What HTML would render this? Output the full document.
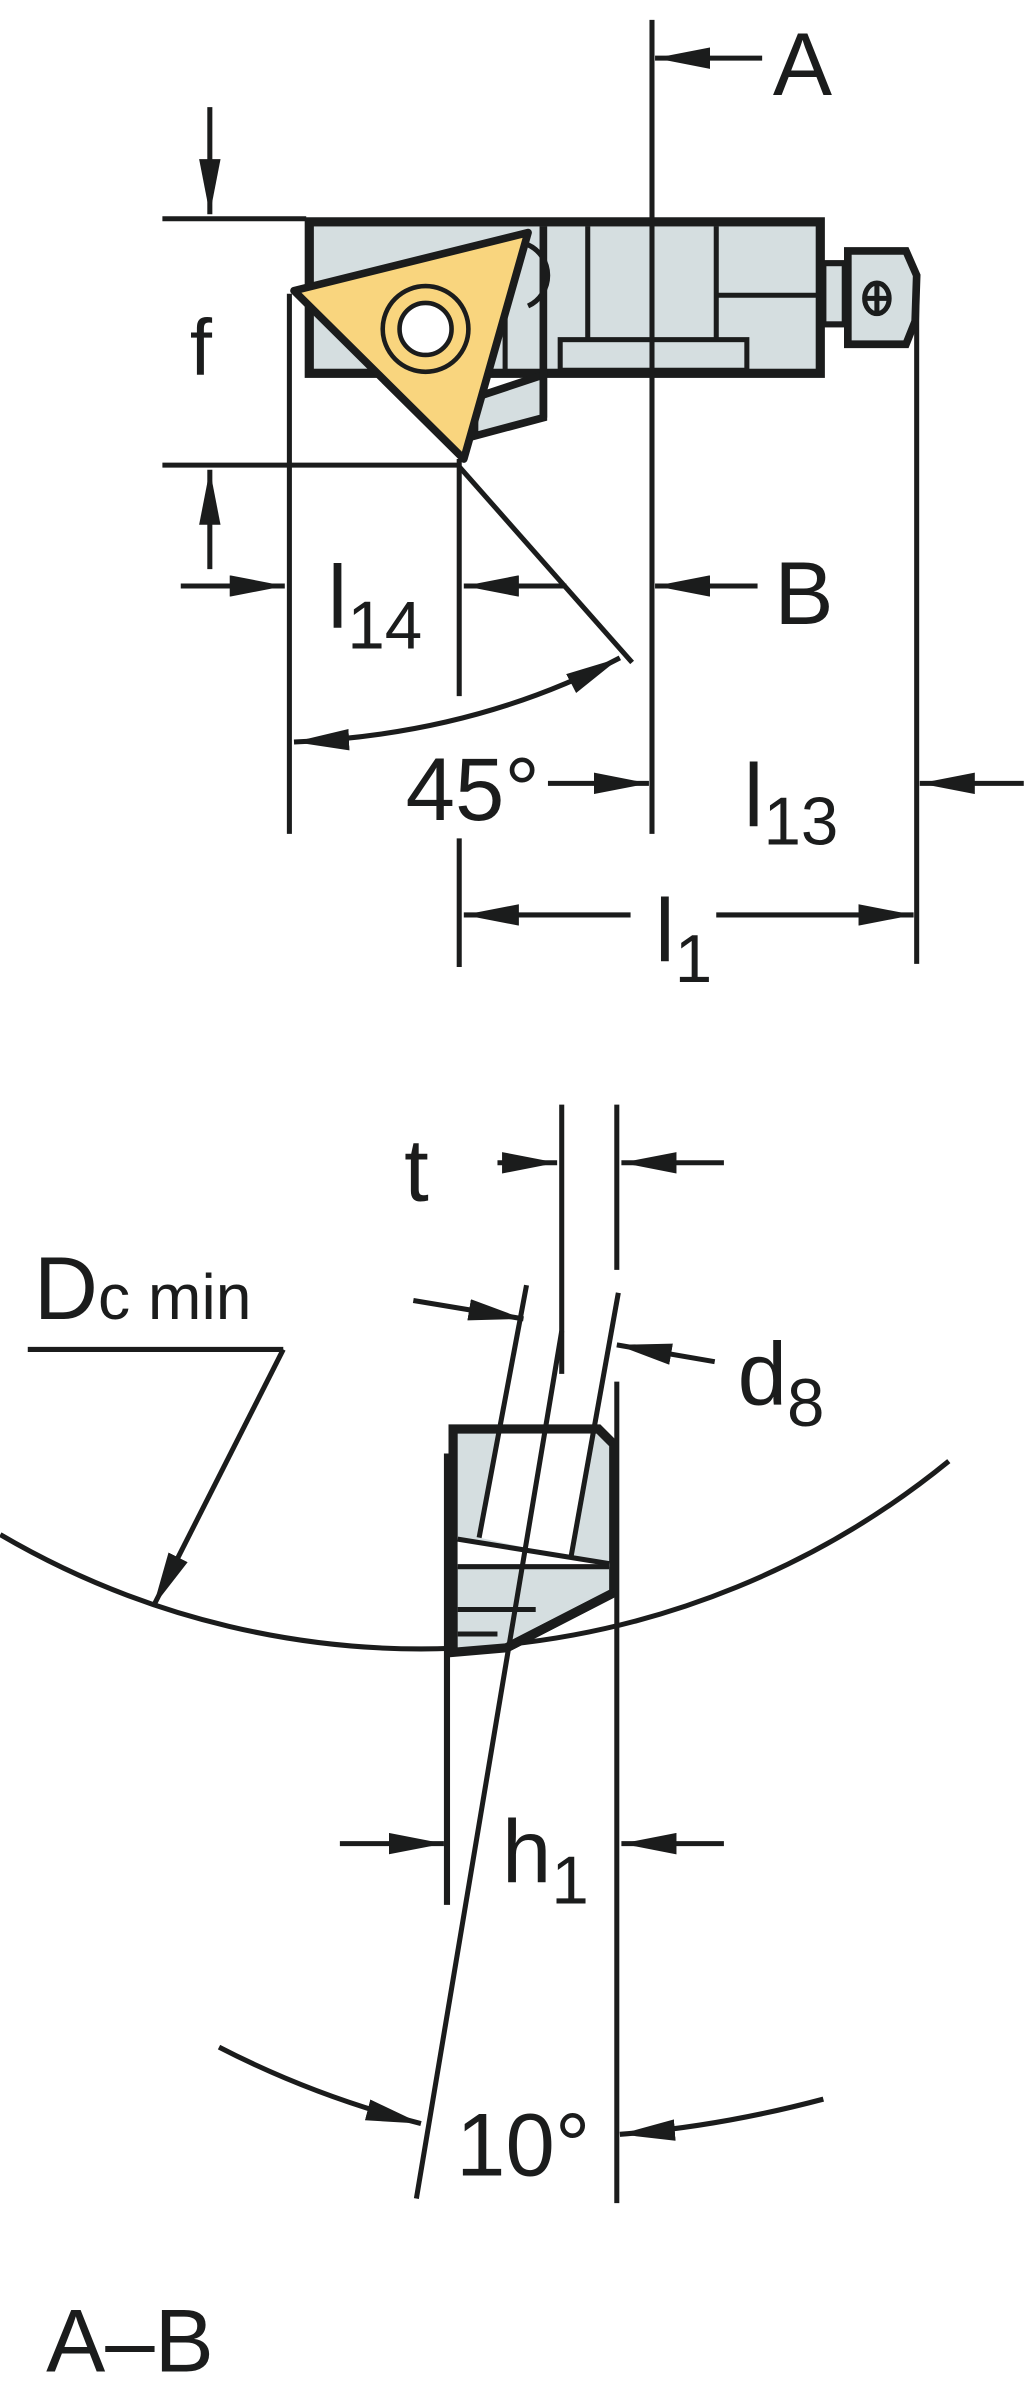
<!DOCTYPE html>
<html><head><meta charset="utf-8"><style>
html,body{margin:0;padding:0;background:#fff;}
svg{display:block;}
text{font-family:"Liberation Sans",sans-serif;fill:#1b1c1c;}
</style></head><body>
<svg width="1024" height="2399" viewBox="0 0 669 1568" xmlns="http://www.w3.org/2000/svg">
<defs>
<marker id="ah" viewBox="0 0 36 14" refX="36" refY="7" markerWidth="36" markerHeight="14" markerUnits="userSpaceOnUse" orient="auto-start-reverse">
<path d="M0,0 L36,7 L0,14 z" fill="#1b1c1c"/></marker>
</defs>
<g stroke="#1b1c1c" fill="none" stroke-width="3.3">
<line x1="106" y1="143" x2="200" y2="143"/>
<rect x="202" y="145" width="334" height="99" fill="#d5dee0" stroke-width="6"/>
<line x1="384" y1="148" x2="384" y2="240"/>
<line x1="468" y1="148" x2="468" y2="240"/>
<line x1="468" y1="193" x2="536" y2="193"/>
<rect x="366" y="222" width="122" height="20" fill="#d5dee0"/>
<path d="M310,260 L355,245 L355,273 L310,285 Z" fill="#d5dee0" stroke-width="5"/>
<line x1="355" y1="148" x2="355" y2="273" stroke-width="5"/>
<line x1="330" y1="200" x2="330" y2="245"/>
<path d="M345,160 A22,22 0 0 1 345,200" />
<rect x="538" y="172" width="14" height="40" fill="#d5dee0" stroke-width="4"/>
<path d="M554,164 L592,164 L599,180 L598,210 L592,225 L554,225 Z" fill="#d5dee0" stroke-width="5"/>
<ellipse cx="573" cy="195" rx="8" ry="10"/>
<line x1="565" y1="195" x2="581" y2="195"/><line x1="573" y1="185" x2="573" y2="205"/>
<path d="M192,190 L345,152 L303,300 Z" fill="#f9d57e" stroke-width="5" stroke-linejoin="round"/>
<circle cx="278" cy="215" r="28" stroke-width="3"/>
<circle cx="278" cy="215" r="17" fill="#fff" stroke-width="3"/>
<line x1="426" y1="13" x2="426" y2="545"/>
<line x1="106" y1="304" x2="300" y2="304"/>
<line x1="189" y1="192" x2="189" y2="545"/>
<line x1="300" y1="300" x2="300" y2="455"/>
<line x1="300" y1="548" x2="300" y2="632"/>
<line x1="599" y1="185" x2="599" y2="630"/>
<line x1="300" y1="305" x2="413" y2="433"/>
</g>
<g stroke="#1b1c1c" stroke-width="3.3" fill="none" marker-end="url(#ah)">
<path d="M192,485 Q310,480 405,430" marker-start="url(#ah)"/>
<line x1="498" y1="38" x2="428" y2="38"/>
<line x1="137" y1="70" x2="137" y2="140"/>
<line x1="137" y1="372" x2="137" y2="307"/>
<line x1="118" y1="383" x2="186" y2="383"/>
<line x1="370" y1="383" x2="303" y2="383"/>
<line x1="495" y1="383" x2="428" y2="383"/>
<line x1="358" y1="512" x2="424" y2="512"/>
<line x1="669" y1="512" x2="601" y2="512"/>
<line x1="412" y1="598" x2="303" y2="598"/>
<line x1="468" y1="598" x2="597" y2="598"/>
</g>
<g font-size="58">
<text x="505" y="62">A</text>
<text x="506" y="408">B</text>
<text x="124" y="245" font-size="52">f</text>
<text x="214" y="410">l<tspan font-size="44" dy="14">14</tspan></text>
<text x="265" y="536">45°</text>
<text x="486" y="540">l<tspan font-size="44" dy="12">13</tspan></text>
<text x="428" y="628">l<tspan font-size="44" dy="14">1</tspan></text>
</g>
<g stroke="#1b1c1c" fill="none" stroke-width="3.3">
<line x1="367" y1="722" x2="367" y2="898"/>
<line x1="403" y1="722" x2="403" y2="830"/>
<line x1="18" y1="882" x2="185" y2="882"/>
<path d="M0,1003 A545,545 0 0 0 620,955"/>
<path d="M296,934 L391,934 L401,944 L401,1041 L331,1077 L296,1080 Z" fill="#d5dee0" stroke-width="6" stroke-linejoin="miter"/>
<path d="M326,937 L388,937 L373,1018 L313,1005 Z" fill="#fff" stroke="none"/>
<path d="M299,1006 L398,1022 L398,1024 L299,1024 Z" fill="#fff" stroke="none"/>
<line x1="299" y1="1006" x2="398" y2="1022"/>
<line x1="299" y1="1024" x2="398" y2="1024"/>
<line x1="299" y1="1052" x2="350" y2="1052"/>
<line x1="299" y1="1068" x2="325" y2="1068"/>
<path d="M331,1077 L401,1041" stroke-width="6"/>
<line x1="344" y1="840" x2="313" y2="1005"/>
<line x1="404" y1="845" x2="373" y2="1018"/>
<line x1="367" y1="870" x2="272" y2="1437"/>
<line x1="403" y1="903" x2="403" y2="1440"/>
<line x1="292" y1="950" x2="292" y2="1245" stroke-width="4"/>
</g>
<g stroke="#1b1c1c" stroke-width="3.3" fill="none" marker-end="url(#ah)">
<line x1="185" y1="882" x2="100" y2="1050"/>
<path d="M143,1338 Q205,1370 275,1388"/>
<path d="M538,1372 Q470,1390 405,1395"/>
<line x1="325" y1="760" x2="364" y2="760"/>
<line x1="473" y1="760" x2="406" y2="760"/>
<line x1="270" y1="850" x2="342" y2="862"/>
<line x1="467" y1="890" x2="403" y2="879"/>
<line x1="222" y1="1205" x2="290" y2="1205"/>
<line x1="473" y1="1205" x2="406" y2="1205"/>
</g>
<g font-size="58">
<text x="264" y="785">t</text>
<text x="22" y="862">D<tspan font-size="42">c min</tspan></text>
<text x="482" y="918">d<tspan font-size="44" dy="14">8</tspan></text>
<text x="328" y="1230">h<tspan font-size="44" dy="14">1</tspan></text>
<text x="298" y="1422">10°</text>
<text x="30" y="1550">A–B</text>
</g>
</svg>
</body></html>
